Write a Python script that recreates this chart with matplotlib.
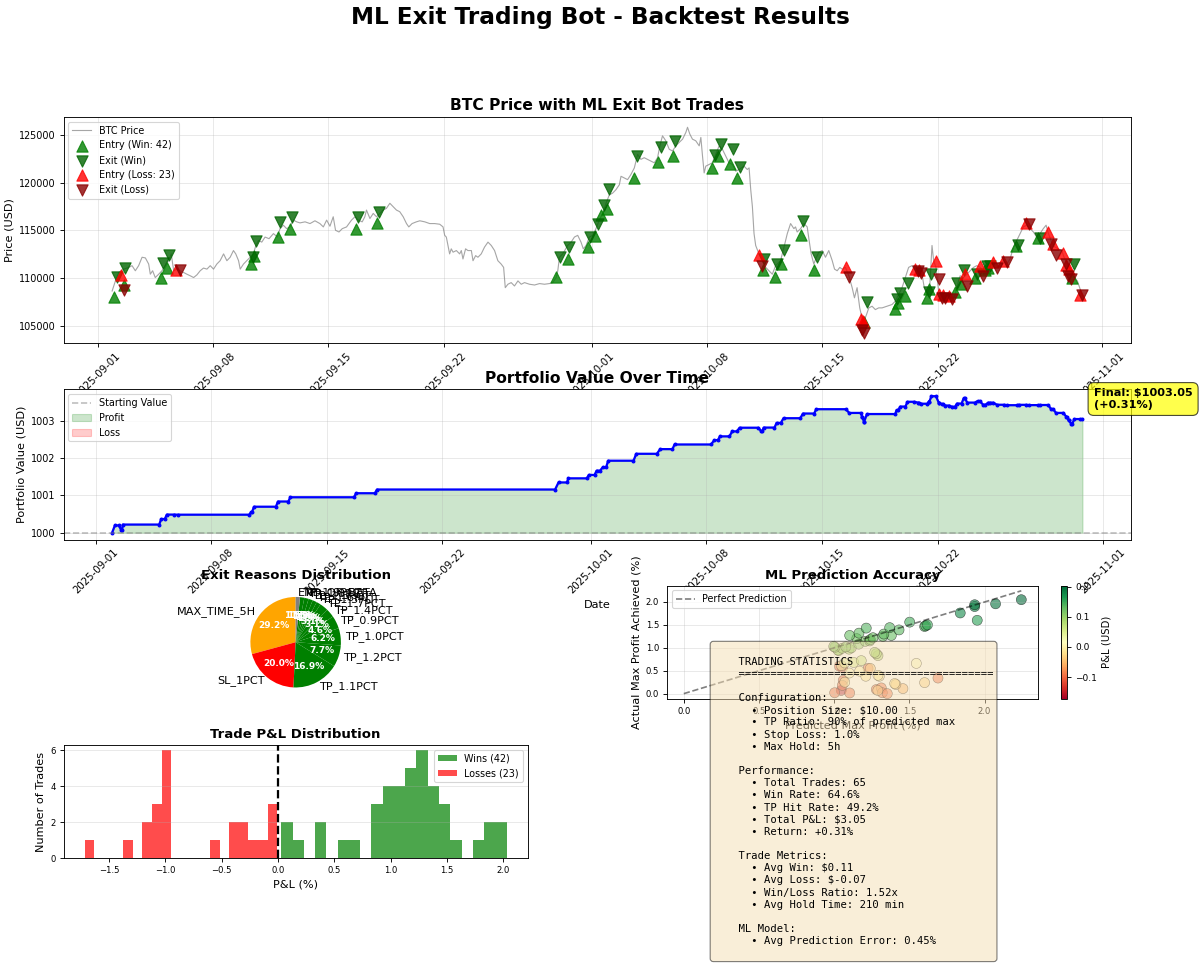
import numpy as np
import pandas as pd
import matplotlib
matplotlib.use("Agg")
import matplotlib.pyplot as plt
from matplotlib.gridspec import GridSpec

DPI = 81
START = pd.Timestamp("2025-09-01")
POSITION_SIZE = 10.0
START_VALUE = 1000.0

# ─── BTC price (days since 2025-09-01, price in $k) ───
PRICE_DAY = [
    0.86, 1.06, 1.26, 1.57, 1.87, 2.07, 2.27, 2.47, 2.68, 2.88, 3.08, 3.18, 3.32, 3.48,
    3.69, 3.89, 4.09, 4.29, 4.45, 4.60, 4.80, 5.00, 5.20, 5.40, 5.61, 5.81, 6.01, 6.21,
    6.41, 6.62, 6.82, 7.02, 7.22, 7.42, 7.63, 7.83, 8.03, 8.23, 8.37, 8.54, 8.64, 8.84,
    9.04, 9.24, 9.44, 9.59, 9.75, 9.95, 10.15, 10.39, 10.66, 10.90, 11.06, 11.26, 11.46,
    11.67, 11.87, 12.07, 12.27, 12.58, 12.88, 13.18, 13.48, 13.69, 13.89, 14.09, 14.29,
    14.43, 14.64, 14.84, 15.10, 15.40, 15.61, 15.81, 16.05, 16.21, 16.31, 16.52, 16.72,
    16.92, 17.12, 17.32, 17.52, 17.73, 17.93, 18.13, 18.33, 18.54, 18.74, 18.88, 19.08,
    19.34, 19.55, 19.85, 20.15, 20.45, 20.76, 20.96, 21.06, 21.16, 21.26, 21.36, 21.46,
    21.57, 21.77, 21.97, 22.07, 22.17, 22.33, 22.47, 22.68, 22.78, 22.94, 23.08, 23.28,
    23.48, 23.69, 23.89, 24.09, 24.29, 24.49, 24.64, 24.74, 24.90, 25.10, 25.30, 25.51,
    25.71, 25.91, 26.21, 26.52, 26.82, 27.12, 27.42, 27.63, 27.83, 27.93, 28.03, 28.23,
    28.53, 28.74, 28.94, 29.14, 29.34, 29.48, 29.65, 29.85, 30.05, 30.25, 30.45, 30.66,
    30.86, 31.06, 31.26, 31.46, 31.67, 31.77, 31.97, 32.17, 32.37, 32.58, 32.68, 32.78,
    32.98, 33.18, 33.38, 33.59, 33.79, 33.99, 34.13, 34.29, 34.49, 34.70, 34.90, 35.10,
    35.30, 35.51, 35.71, 35.81, 35.95, 36.11, 36.31, 36.52, 36.62, 36.72, 36.82, 36.92,
    37.12, 37.32, 37.52, 37.73, 37.93, 38.13, 38.33, 38.54, 38.74, 38.94, 39.24, 39.44,
    39.55, 39.65, 39.75, 39.85, 39.95, 40.15, 40.35, 40.56, 40.76, 40.96, 41.16, 41.26,
    41.46, 41.67, 41.87, 42.07, 42.27, 42.37, 42.47, 42.68, 42.88, 43.08, 43.18, 43.32,
    43.48, 43.64, 43.79, 43.99, 44.19, 44.39, 44.60, 44.74, 44.90, 45.06, 45.20, 45.40,
    45.61, 45.81, 45.95, 46.11, 46.27, 46.41, 46.52, 46.68, 46.82, 47.02, 47.22, 47.42,
    47.63, 47.93, 48.23, 48.43, 48.64, 48.84, 49.04, 49.24, 49.44, 49.65, 49.85, 50.05,
    50.19, 50.35, 50.52, 50.66, 50.76, 50.90, 51.06, 51.26, 51.46, 51.67, 51.87, 52.07,
    52.27, 52.37, 52.57, 52.78, 52.98, 53.18, 53.38, 53.58, 53.79, 53.99, 54.19, 54.39,
    54.60, 54.80, 55.00, 55.20, 55.40, 55.61, 55.81, 56.01, 56.21, 56.41, 56.62, 56.82,
    57.02, 57.22, 57.42, 57.59, 57.73, 57.93, 58.13, 58.33, 58.54, 58.68, 58.89, 59.09,
    59.29, 59.49, 59.70, 59.80,
]
PRICE_K = [
    108.67, 109.73, 110.61, 110.96, 111.14, 111.32, 110.79, 111.32, 112.20, 112.13, 111.49,
    110.43, 110.79, 110.08, 110.43, 110.79, 111.32, 111.84, 112.55, 110.79, 110.96, 110.79,
    110.61, 110.43, 110.26, 110.08, 110.36, 110.79, 111.07, 110.96, 111.32, 110.96, 111.49,
    111.84, 112.55, 111.84, 112.20, 112.90, 112.55, 111.84, 110.96, 111.49, 111.84, 112.20,
    112.55, 113.43, 113.96, 113.78, 114.31, 114.14, 114.67, 114.31, 115.19, 115.55, 115.19,
    115.37, 116.08, 115.90, 115.79, 115.90, 115.72, 116.01, 115.72, 115.37, 116.08, 115.44,
    116.43, 115.02, 114.84, 115.19, 115.37, 116.08, 116.43, 116.08, 115.90, 116.43, 117.13,
    116.25, 116.78, 116.43, 116.78, 117.13, 117.31, 117.84, 117.49, 117.13, 116.96, 116.43,
    115.72, 115.37, 115.72, 115.90, 116.01, 115.90, 115.72, 115.72, 115.65, 115.37, 114.49,
    114.31, 113.43, 112.55, 113.08, 112.73, 112.90, 112.55, 112.90, 112.02, 113.08, 112.90,
    112.90, 111.84, 112.37, 112.20, 112.55, 113.26, 113.78, 113.43, 112.90, 111.84, 111.49,
    111.14, 109.02, 109.38, 109.55, 109.20, 109.73, 109.38, 109.55, 109.38, 109.30, 109.45,
    109.38, 109.45, 109.55, 110.08, 110.79, 112.20, 112.55, 113.43, 113.78, 114.31, 114.49,
    113.78, 113.08, 113.43, 114.31, 114.49, 115.19, 116.08, 116.78, 117.84, 118.72, 118.90,
    119.25, 119.78, 120.66, 120.49, 120.31, 120.84, 121.54, 122.25, 122.95, 122.43, 122.60,
    122.43, 122.25, 122.07, 122.60, 123.84, 124.89, 124.37, 123.48, 123.31, 123.84, 124.19,
    124.54, 125.25, 125.78, 125.07, 124.54, 124.37, 123.84, 124.72, 122.78, 121.01, 121.72,
    121.90, 122.07, 122.95, 123.84, 123.48, 122.78, 122.07, 121.90, 121.19, 121.37, 121.72,
    121.37, 121.54, 119.25, 117.49, 114.67, 113.43, 112.55, 111.84, 111.14, 110.79, 110.43,
    111.32, 111.49, 111.84, 113.26, 114.67, 115.72, 115.19, 115.37, 114.84, 115.19, 115.72,
    115.37, 114.14, 112.55, 111.49, 112.20, 112.73, 112.90, 112.20, 112.90, 111.84, 110.96,
    110.79, 111.14, 110.96, 111.14, 110.26, 109.02, 107.96, 109.02, 106.91, 105.85, 105.50,
    106.20, 106.91, 107.08, 106.73, 106.91, 106.91, 107.08, 107.26, 107.61, 108.32, 109.02,
    110.08, 111.14, 111.32, 110.79, 110.79, 110.43, 109.02, 108.32, 109.02, 113.43, 111.84,
    111.14, 108.67, 108.32, 108.14, 108.49, 107.61, 108.32, 109.73, 110.26, 110.08, 110.43,
    110.79, 111.14, 111.32, 111.14, 110.79, 111.32, 111.67, 111.67, 111.49, 111.67, 111.84,
    111.49, 112.02, 113.26, 113.96, 114.67, 115.37, 115.55, 115.19, 114.84, 114.31, 114.67,
    115.19, 115.55, 114.67, 113.78, 113.26, 113.08, 112.90, 112.20, 111.49, 110.79, 110.08,
    109.73, 108.67, 108.14,
]

# ─── Trades, in time order ───
ENTRY_DAY = [
    1.00, 1.40, 1.60, 3.85, 4.19, 4.76, 9.30, 9.47, 10.92, 11.67,
    15.65, 16.92, 27.83, 28.55, 29.75, 30.22, 30.55, 30.92, 32.58, 33.99,
    34.94, 37.27, 37.69, 38.39, 38.84, 40.15, 40.38, 41.12, 41.50, 42.68,
    43.52, 45.44, 46.35, 46.45, 46.55, 48.43, 48.62, 49.05, 49.60, 49.85,
    50.38, 50.50, 50.90, 51.08, 51.30, 51.70, 52.05, 52.45, 52.64, 53.25,
    53.55, 53.90, 54.05, 54.38, 55.00, 55.78, 56.35, 57.10, 57.70, 58.00,
    58.62, 58.82, 58.97, 59.15, 59.65,
]
ENTRY_PRICE_K = [
    108.0, 110.3, 109.3, 110.0, 111.1, 110.9, 111.5, 112.3, 114.3, 115.1,
    115.2, 115.8, 110.1, 112.0, 113.3, 114.4, 116.6, 117.2, 120.5, 122.2,
    122.8, 121.5, 122.8, 121.9, 120.5, 112.4, 110.9, 110.1, 111.5, 114.5,
    110.9, 111.2, 105.8, 105.5, 105.4, 106.75, 107.45, 108.15, 111.0, 110.9,
    107.9, 108.9, 111.84, 108.4, 108.3, 108.2, 108.6, 109.4, 110.4, 110.0,
    111.3, 110.9, 111.1, 111.7, 111.85, 113.4, 115.75, 114.2, 114.85, 113.6,
    112.6, 111.35, 111.0, 110.0, 108.3,
]
HOLD_H = [
    4, 4, 1, 3, 3, 5, 3, 3, 3, 3,
    3, 3, 5, 2, 3, 3, 4, 3, 4, 5,
    3, 5, 3, 4, 4, 4, 2, 3, 4, 4,
    3, 5, 2, 2, 4, 2, 3, 3, 5, 4,
    2, 3, 4, 4, 4, 4, 3, 3, 4, 4,
    5, 3, 3, 5, 5, 3, 5, 3, 4, 4,
    4, 3, 3, 3, 3,
]
PNL_PCT = [
    1.96, -1.35, 1.58, 1.49, 1.19, -0.03, 0.68, 1.46, 1.40, 1.14,
    1.08, 1.00, 1.90, 1.10, 0.91, 1.15, 0.89, 1.78, 1.86, 1.25,
    1.25, 1.17, 1.01, 1.34, 0.98, -1.00, 1.04, 1.24, 1.27, 1.26,
    1.16, -1.00, -1.18, -1.15, 2.03, 1.06, 0.95, 1.28, -0.22, -0.30,
    0.58, 1.44, -1.715, -0.42, -0.37, -0.33, 0.86, 1.36, -1.10, 0.40,
    -0.96, 0.36, 0.18, -0.56, -0.12, 0.10, -0.08, 0.03, -1.07, -1.05,
    -1.02, -1.01, -0.99, 1.37, -0.005,
]

# ─── ML prediction scatter, points listed in order of ascending trade P&L ───
PRED_MAX = [
    1.047, 1.055, 1.034, 1.06, 1.054, 1.003, 1.103, 1.225, 1.69, 1.28, 1.313, 1.32, 1.353,
    1.457, 1.24, 1.41, 1.29, 1.601, 1.402, 1.07, 1.21, 1.30, 1.291,
    1.169, 1.10, 1.546, 1.048, 1.07, 1.13, 1.18,
    1.291, 1.28, 1.269, 1.03, 1.025, 1.099, 1.054, 1.114, 1.005, 1.077,
    0.997, 1.163, 1.207, 1.236, 1.24, 1.15, 1.258, 1.324, 1.103, 1.380,
    1.33, 1.165, 1.431, 1.213, 1.369, 1.601, 1.608, 1.502, 1.62, 1.951,
    1.838, 1.934, 1.934, 2.073, 2.244,
]
ACTUAL_MAX = [
    0.07, 0.56, 0.60, 0.29, 0.18, 0.02, 0.015, 0.55, 0.34, 0.09, 0.125, 0.02, 0.0,
    0.11, 0.55, 0.20, 0.07, 0.24, 0.22, 0.25, 0.38, 0.38, 0.40,
    0.49, 0.45, 0.66, 0.61, 0.67, 0.68, 0.72,
    0.83, 0.87, 0.90, 0.94, 0.95, 0.97, 0.99, 1.00, 1.01, 1.02,
    1.03, 1.08, 1.14, 1.15, 1.18, 1.20, 1.22, 1.25, 1.27, 1.27,
    1.30, 1.32, 1.39, 1.43, 1.44, 1.465, 1.48, 1.56, 1.50, 1.60,
    1.76, 1.90, 1.94, 1.96, 2.05,
]

# ─── Exit reasons ───
EXIT_REASONS = ["MAX_TIME_5H", "SL_1PCT", "TP_1.1PCT", "TP_1.2PCT", "TP_1.0PCT",
                "TP_0.9PCT", "TP_1.4PCT", "TP_1.7PCT", "TP_1.3PCT", "TP_1.6PCT",
                "TP_1.5PCT", "TP_1.8PCT", "TP_1.9PCT", "END_OF_DATA"]
EXIT_COUNTS = [19, 13, 11, 5, 4, 3, 2, 2, 1, 1, 1, 1, 1, 1]

STATS_TEXT = "\n".join([
    "",
    "    TRADING STATISTICS",
    "    " + "=" * 40,
    "",
    "    Configuration:",
    "      • Position Size: \\$10.00",
    "      • TP Ratio: 90% of predicted max",
    "      • Stop Loss: 1.0%",
    "      • Max Hold: 5h",
    "",
    "    Performance:",
    "      • Total Trades: 65",
    "      • Win Rate: 64.6%",
    "      • TP Hit Rate: 49.2%",
    "      • Total P&L: \\$3.05",
    "      • Return: +0.31%",
    "",
    "    Trade Metrics:",
    "      • Avg Win: \\$0.11",
    "      • Avg Loss: \\$-0.07",
    "      • Win/Loss Ratio: 1.52x",
    "      • Avg Hold Time: 210 min",
    "",
    "    ML Model:",
    "      • Avg Prediction Error: 0.45%",
    "    ",
])

# ─── derived series ───
price_t = START + pd.to_timedelta(PRICE_DAY, unit="D")
price = np.array(PRICE_K) * 1000

pnl = np.array(PNL_PCT)
entry_t = START + pd.to_timedelta(ENTRY_DAY, unit="D")
exit_t = entry_t + pd.to_timedelta(HOLD_H, unit="h")
entry_p = np.array(ENTRY_PRICE_K) * 1000
exit_p = entry_p * (1 + pnl / 100)
win = pnl > 0
loss = ~win

pnl_usd = POSITION_SIZE * pnl / 100
equity = START_VALUE + np.cumsum(pnl_usd)
before = np.concatenate([[START_VALUE], equity[:-1]])
n = len(pnl)
port_t = np.empty(2 * n, dtype="datetime64[ns]")
port_t[0::2] = entry_t.values
port_t[1::2] = exit_t.values
port_v = np.empty(2 * n)
port_v[0::2] = before
port_v[1::2] = equity

# ─── figure ───
plt.rcParams.update({"font.size": 10})
fig = plt.figure(figsize=(1200 / DPI, 967 / DPI), dpi=DPI)
fig.suptitle("ML Exit Trading Bot - Backtest Results", fontsize=20.5, fontweight="bold", y=0.994)
gs = GridSpec(4, 2, figure=fig, left=0.053, right=0.9425, top=0.879, bottom=0.1127,
              hspace=0.306, wspace=0.30, height_ratios=[226, 150, 113, 113])
ax_price = fig.add_subplot(gs[0, :])
ax_port = fig.add_subplot(gs[1, :])
ax_pie = fig.add_subplot(gs[2, 0])
ax_sc = fig.add_subplot(gs[2, 1])
ax_hist = fig.add_subplot(gs[3, 0])
ax_txt = fig.add_subplot(gs[3, 1])

# price with trades
ax_price.plot(price_t, price, color="gray", alpha=0.7, linewidth=1, label="BTC Price")
ax_price.scatter(entry_t[win], entry_p[win], marker="^", color="green", s=100, alpha=0.8,
                 zorder=5, label=f"Entry (Win: {win.sum()})")
ax_price.scatter(exit_t[win], exit_p[win], marker="v", color="darkgreen", s=100, alpha=0.8,
                 zorder=5, label="Exit (Win)")
ax_price.scatter(entry_t[loss], entry_p[loss], marker="^", color="red", s=100, alpha=0.8,
                 zorder=5, label=f"Entry (Loss: {loss.sum()})")
ax_price.scatter(exit_t[loss], exit_p[loss], marker="v", color="darkred", s=100, alpha=0.8,
                 zorder=5, label="Exit (Loss)")
ax_price.set_title("BTC Price with ML Exit Bot Trades", fontsize=13.8, fontweight="bold")
ax_price.set_ylabel("Price (USD)")
ax_price.legend(loc="upper left", fontsize=8.5)
ax_price.grid(True, alpha=0.3)
ax_price.tick_params(axis="x", labelsize=9)
ax_price.tick_params(axis="y", labelsize=8.5)
plt.setp(ax_price.get_xticklabels(), rotation=45)

# portfolio value
ax_port.plot(port_t, port_v, "b-", linewidth=2, marker="o", markersize=2.5)
ax_port.axhline(START_VALUE, color="gray", linestyle="--", alpha=0.5, label="Starting Value")
ax_port.fill_between(port_t, START_VALUE, port_v, where=port_v >= START_VALUE,
                     color="green", alpha=0.2, label="Profit")
ax_port.fill_between(port_t, START_VALUE, port_v, where=port_v < START_VALUE,
                     color="red", alpha=0.2, label="Loss")
final = equity[-1]
ret = (final - START_VALUE) / START_VALUE * 100
ax_port.annotate(f"Final: \\${final:.2f}\n({ret:+.2f}%)",
                 xy=(port_t[-1], port_v[-1]), xytext=(10, 10), textcoords="offset points",
                 fontsize=10, fontweight="bold",
                 bbox=dict(boxstyle="round,pad=0.5", facecolor="yellow", alpha=0.7))
ax_port.set_title("Portfolio Value Over Time", fontsize=13.8, fontweight="bold")
ax_port.set_xlabel("Date")
ax_port.set_ylabel("Portfolio Value (USD)")
ax_port.legend(loc="upper left", fontsize=8.5)
ax_port.grid(True, alpha=0.3)
ax_port.tick_params(axis="x", labelsize=9)
ax_port.tick_params(axis="y", labelsize=8.5)
plt.setp(ax_port.get_xticklabels(), rotation=45)

# exit reasons pie
def reason_color(r):
    if r.startswith("TP"):
        return "green"
    if r.startswith("SL"):
        return "red"
    if r.startswith("MAX_TIME"):
        return "orange"
    return "gray"

wedges, texts, autotexts = ax_pie.pie(
    EXIT_COUNTS, labels=EXIT_REASONS, autopct="%1.1f%%", startangle=90,
    colors=[reason_color(r) for r in EXIT_REASONS], textprops={"fontsize": 10})
for t in autotexts:
    t.set_color("white")
    t.set_fontweight("bold")
    t.set_fontsize(8)
ax_pie.set_title("Exit Reasons Distribution", fontsize=11.8, fontweight="bold")

# prediction accuracy
pnl_sorted = np.sort(pnl)
sc = ax_sc.scatter(PRED_MAX, ACTUAL_MAX, c=pnl_sorted * POSITION_SIZE / 100, cmap="RdYlGn",
                   s=80, alpha=0.6, edgecolors="black", linewidths=0.5)
mx = max(PRED_MAX)
ax_sc.plot([0, mx], [0, mx], "k--", alpha=0.5, linewidth=1.5, label="Perfect Prediction")
ax_sc.set_title("ML Prediction Accuracy", fontsize=11.8, fontweight="bold")
ax_sc.set_xlabel("Predicted Max Profit (%)")
ax_sc.set_ylabel("Actual Max Profit Achieved (%)")
ax_sc.legend(loc="upper left", fontsize=8.5)
ax_sc.grid(True, alpha=0.3)
ax_sc.tick_params(labelsize=7.5)
cbar = fig.colorbar(sc, ax=ax_sc)
cbar.solids.set_alpha(1)
cbar.set_label("P&L (USD)", fontsize=9)
cbar.ax.tick_params(labelsize=8)

# P&L histogram
ax_hist.hist(pnl[win], bins=20, color="green", alpha=0.7, label=f"Wins ({win.sum()})")
ax_hist.hist(pnl[loss], bins=20, color="red", alpha=0.7, label=f"Losses ({loss.sum()})")
ax_hist.axvline(0, color="black", linestyle="--", linewidth=2)
ax_hist.set_title("Trade P&L Distribution", fontsize=11.8, fontweight="bold")
ax_hist.set_xlabel("P&L (%)")
ax_hist.set_ylabel("Number of Trades")
ax_hist.legend(loc="upper right", fontsize=8.5)
ax_hist.grid(True, alpha=0.3, axis="y")
ax_hist.tick_params(labelsize=7.5)

# stats box
ax_txt.axis("off")
ax_txt.text(0.1, 0.5, STATS_TEXT, transform=ax_txt.transAxes, fontsize=9.3,
            family="monospace", va="center", linespacing=1.27,
            bbox=dict(boxstyle="round", facecolor="wheat", alpha=0.5))

fig.savefig("out.png", dpi=DPI)
